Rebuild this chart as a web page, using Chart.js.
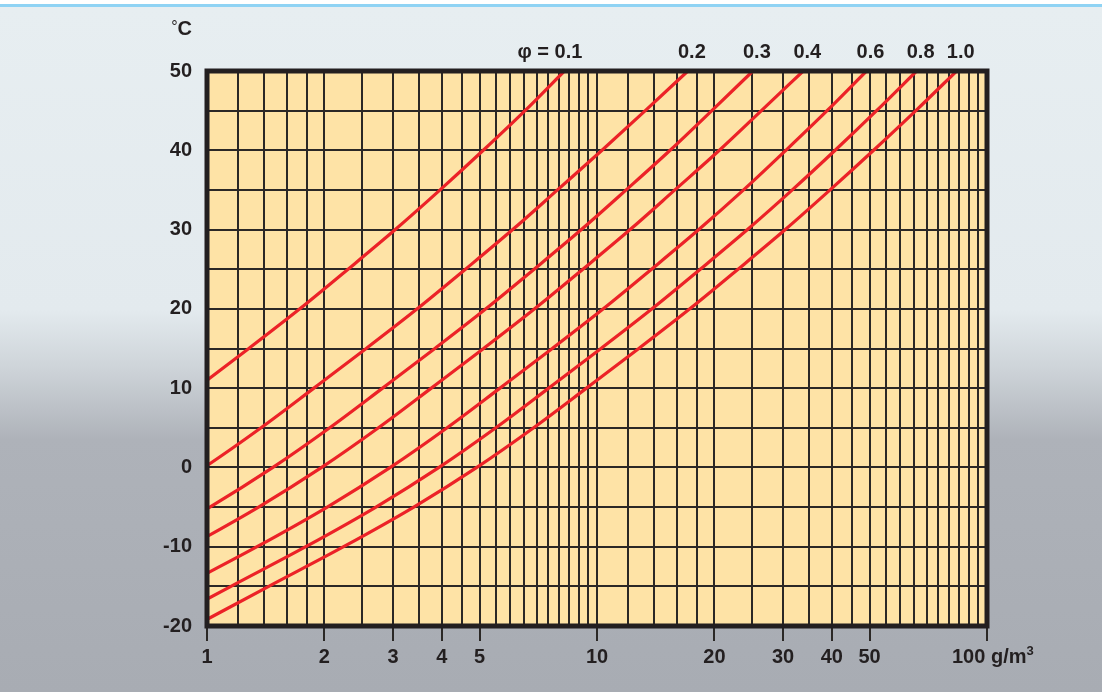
<!DOCTYPE html>
<html>
<head>
<meta charset="utf-8">
<title>Absolute humidity vs temperature</title>
<script src="https://cdn.jsdelivr.net/npm/chart.js@4.4.1/dist/chart.umd.min.js"></script>
<style>
  html, body { margin: 0; padding: 0; }
  body {
    width: 1102px;
    height: 692px;
    overflow: hidden;
    background: linear-gradient(to bottom,
      #ffffff 0px, #ffffff 4px, #8fd3f4 4px, #8fd3f4 7px,
      #e7eef1 7px, #e3eaee 310px, #cdd3d8 370px, #aeb2b9 440px, #a8acb3 692px);
  }
  #wrap { position: relative; width: 1102px; height: 692px; }
</style>
</head>
<body>
<div id="wrap"><canvas id="chart" width="1102" height="692"></canvas></div>
<script>
// Temperature (°C) for every point of the curves
const temps = [-20, -15, -10, -5, 0, 5, 10, 15, 20, 25, 30, 35, 40, 45, 50];

// Absolute humidity (g/m3)
const humidity01 = [0.093, 0.144, 0.224, 0.339, 0.492, 0.688, 0.94, 1.28, 1.73, 2.30, 3.04, 3.96, 5.11, 6.54, 8.25];
const humidity02 = [0.186, 0.288, 0.448, 0.678, 0.984, 1.376, 1.88, 2.56, 3.46, 4.60, 6.08, 7.92, 10.3, 13.3, 17.1];
const humidity03 = [0.279, 0.432, 0.672, 1.017, 1.476, 2.064, 2.82, 3.84, 5.19, 6.90, 9.12, 11.88, 15.4, 19.7, 25.1];
const humidity04 = [0.372, 0.576, 0.896, 1.356, 1.968, 2.752, 3.76, 5.12, 6.92, 9.20, 12.16, 15.84, 20.6, 26.4, 33.8];
const humidity06 = [0.558, 0.864, 1.344, 2.034, 2.952, 4.128, 5.64, 7.68, 10.38, 13.8, 18.24, 23.76, 30.5, 38.9, 49.1];
const humidity08 = [0.744, 1.152, 1.792, 2.712, 3.936, 5.504, 7.52, 10.24, 13.84, 18.4, 24.32, 31.68, 40.8, 52.1, 66.0];
const humidity10 = [0.93, 1.44, 2.24, 3.39, 4.92, 6.88, 9.40, 12.8, 17.3, 23.0, 30.4, 39.6, 51.2, 65.7, 83.6];

const phiLabels = ['0.1', '0.2', '0.3', '0.4', '0.6', '0.8', '1.0'];
const phiSeries = [humidity01, humidity02, humidity03, humidity04, humidity06, humidity08, humidity10];

// Vertical grid lines on the log axis and the ones that carry a label
const xGridValues = [1, 1.2, 1.4, 1.6, 1.8, 2, 2.5, 3, 3.5, 4, 4.5, 5, 5.5, 6, 6.5, 7, 7.5, 8, 8.5, 9, 9.5,
  10, 12, 14, 16, 18, 20, 25, 30, 35, 40, 45, 50, 55, 60, 65, 70, 75, 80, 85, 90, 95, 100];
const xTickLabels = [1, 2, 3, 4, 5, 10, 20, 30, 40, 50, 100];

const FONT_FAMILY = '"Liberation Sans", Arial, Helvetica, sans-serif';
const TEXT_COLOR = '#231f20';
const GRID_COLOR = '#2b2826';
const CURVE_COLOR = '#ec2227';

// Plot fill, thick frame and the extra texts (units, phi labels)
const framePlugin = {
  id: 'frame',
  beforeDraw(chart) {
    const { ctx, chartArea: a } = chart;
    ctx.save();
    ctx.fillStyle = '#fee3a6';
    ctx.fillRect(a.left, a.top, a.right - a.left, a.bottom - a.top);
    ctx.restore();
  },
  afterDraw(chart) {
    const { ctx, chartArea: a } = chart;
    const xScale = chart.scales.x;
    ctx.save();
    ctx.strokeStyle = '#231f20';
    ctx.lineWidth = 5;
    ctx.strokeRect(a.left, a.top, a.right - a.left, a.bottom - a.top);

    ctx.fillStyle = TEXT_COLOR;
    ctx.textBaseline = 'alphabetic';

    // °C above the y axis
    ctx.font = 'bold 20px ' + FONT_FAMILY;
    ctx.textAlign = 'right';
    ctx.fillText('C', 192, 35);
    const cWidth = ctx.measureText('C').width;
    ctx.font = '16px ' + FONT_FAMILY;
    ctx.fillText('°', 192 - cWidth, 32);

    // 100 g/m3 at the end of the x axis
    ctx.font = 'bold 20px ' + FONT_FAMILY;
    ctx.textAlign = 'left';
    const unitText = '100 g/m';
    ctx.fillText(unitText, 952, 663);
    const unitWidth = ctx.measureText(unitText).width;
    ctx.font = 'bold 13px ' + FONT_FAMILY;
    ctx.fillText('3', 952 + unitWidth, 655);

    // phi labels just right of where each curve leaves the plot
    ctx.font = 'bold 20px ' + FONT_FAMILY;
    phiSeries.forEach((series, i) => {
      const px = xScale.getPixelForValue(series[series.length - 1]) + 4;
      const w = ctx.measureText(phiLabels[i]).width;
      ctx.textAlign = 'center';
      ctx.fillText(phiLabels[i], px, 58);
      if (i === 0) {
        ctx.textAlign = 'right';
        ctx.fillText('\u03C6 = ', px - w / 2, 58);
      }
    });
    ctx.restore();
  }
};

const datasets = phiSeries.map((series, i) => ({
  label: phiLabels[i],
  data: temps.map((t, j) => ({ x: series[j], y: t })),
  borderColor: CURVE_COLOR,
  borderWidth: 3.2,
  pointRadius: 0,
  fill: false,
  cubicInterpolationMode: 'monotone',
  clip: 0
}));

new Chart(document.getElementById('chart'), {
  type: 'line',
  data: { datasets: datasets },
  options: {
    responsive: false,
    animation: false,
    layout: { padding: { top: 71, right: 115, bottom: 0, left: 0 } },
    plugins: {
      legend: { display: false },
      tooltip: { enabled: false }
    },
    scales: {
      x: {
        type: 'logarithmic',
        min: 1,
        max: 100,
        afterBuildTicks(scale) {
          scale.ticks = xGridValues.map(v => ({ value: v }));
        },
        afterFit(scale) {
          scale.height = 66;
          scale.paddingLeft = 0;
          scale.paddingRight = 0;
        },
        ticks: {
          autoSkip: false,
          maxRotation: 0,
          minRotation: 0,
          padding: 4,
          color: TEXT_COLOR,
          font: { family: FONT_FAMILY, size: 20, weight: 'bold' },
          // 100 is drawn by the plugin together with the unit
          callback: (v) => (xTickLabels.includes(v) && v !== 100 ? String(v) : '')
        },
        grid: {
          color: GRID_COLOR,
          lineWidth: 2,
          tickLength: 15,
          tickWidth: 2,
          tickColor: (ctx) => (ctx.tick && xTickLabels.includes(ctx.tick.value) ? GRID_COLOR : 'rgba(0,0,0,0)')
        },
        border: { display: false }
      },
      y: {
        min: -20,
        max: 50,
        afterFit(scale) {
          scale.width = 207;
          scale.paddingTop = 0;
          scale.paddingBottom = 0;
        },
        ticks: {
          stepSize: 5,
          padding: 15,
          color: TEXT_COLOR,
          font: { family: FONT_FAMILY, size: 20, weight: 'bold' },
          callback: (v) => (v % 10 === 0 ? String(v) : '')
        },
        grid: {
          color: GRID_COLOR,
          lineWidth: 2,
          drawTicks: false
        },
        border: { display: false }
      }
    }
  },
  plugins: [framePlugin]
});
</script>
</body>
</html>
